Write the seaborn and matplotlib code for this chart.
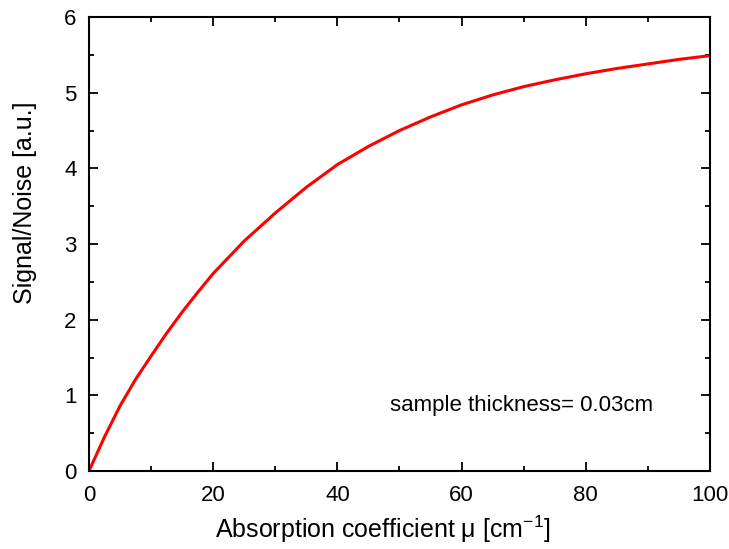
import numpy as np
import pandas as pd
import matplotlib
matplotlib.use('Agg')
import matplotlib.pyplot as plt
import seaborn as sns
from matplotlib.ticker import MultipleLocator

# values
mu = [0, 2.5, 5, 7.5, 10, 12.5, 15, 17.5, 20, 25, 30, 35, 40, 45, 50, 55, 60, 65, 70,
      75, 80, 85, 90, 95, 100]
snr = [0, 0.45, 0.86, 1.21, 1.52, 1.82, 2.1, 2.36, 2.61, 3.04, 3.41, 3.75, 4.05, 4.29,
       4.5, 4.68, 4.84, 4.97, 5.08, 5.17, 5.25, 5.32, 5.38, 5.44, 5.49]

df = pd.DataFrame({'mu': mu, 'snr': snr})

sns.set_style('ticks')
plt.rcParams['font.family'] = ['Liberation Sans', 'DejaVu Sans']
plt.rcParams['mathtext.fontset'] = 'custom'
plt.rcParams['mathtext.rm'] = 'Liberation Sans'
plt.rcParams['mathtext.it'] = 'Liberation Sans:italic'
plt.rcParams['text.color'] = 'black'
plt.rcParams['axes.labelcolor'] = 'black'

fig = plt.figure(figsize=(7.29, 5.49), dpi=100)
ax = fig.add_axes([0.122, 0.142, 0.852, 0.827])

sns.lineplot(data=df, x='mu', y='snr', ax=ax, color='#ff0000', lw=2.2)

ax.set_xlim(0, 100)
ax.set_ylim(0, 6)
ax.xaxis.set_major_locator(MultipleLocator(20))
ax.xaxis.set_minor_locator(MultipleLocator(10))
ax.yaxis.set_major_locator(MultipleLocator(1))
ax.yaxis.set_minor_locator(MultipleLocator(0.5))
ax.tick_params(which='both', direction='in', top=True, right=True,
               width=1.3, colors='black', labelsize=16)
ax.tick_params(which='major', length=6.5)
ax.tick_params(axis='x', which='major', pad=10)
ax.tick_params(axis='y', which='major', pad=9)
ax.tick_params(which='minor', length=3.5)
for s in ax.spines.values():
    s.set_linewidth(1.5)
    s.set_color('black')

ax.set_xlabel('Absorption coefficient \u03bc [cm$^{-1}$]', fontsize=18, va='center')
ax.set_ylabel('Signal/Noise [a.u.]', fontsize=18, va='center')
ax.xaxis.set_label_coords(0.473, -0.128)
ax.yaxis.set_label_coords(-0.103, 0.59)

ax.text(48.5, 0.87, 'sample thickness= 0.03cm', fontsize=16, va='center', ha='left')

fig.savefig('out.png', dpi=100)
